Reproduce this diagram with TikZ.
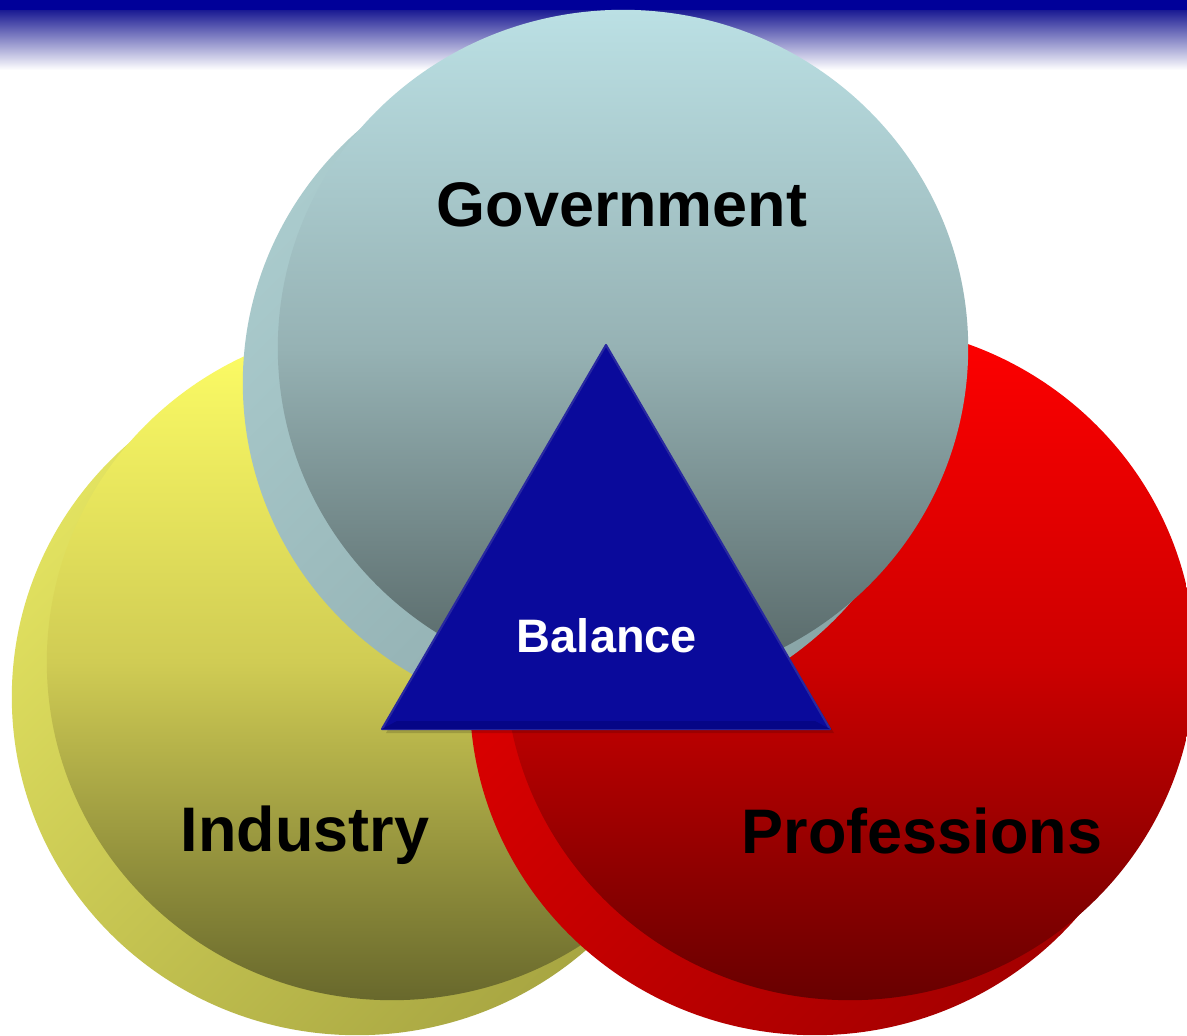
\documentclass[tikz,border=0pt]{standalone}
\usepackage{fontspec}
\setmainfont{Liberation Sans}
\definecolor{barblue}{RGB}{0,0,153}
\definecolor{barfade}{RGB}{28,28,148}
\definecolor{govtop}{RGB}{187,224,228}
\definecolor{govmid}{RGB}{150,178,180}
\definecolor{govbot}{RGB}{84,100,100}
\definecolor{govbacka}{RGB}{170,203,205}
\definecolor{govbackb}{RGB}{138,166,168}
\definecolor{indtop}{RGB}{255,255,102}
\definecolor{indmid}{RGB}{208,204,84}
\definecolor{indbot}{RGB}{104,104,44}
\definecolor{indbacka}{RGB}{226,226,96}
\definecolor{indbackb}{RGB}{168,166,66}
\definecolor{protop}{RGB}{255,0,0}
\definecolor{promid}{RGB}{205,0,0}
\definecolor{probot}{RGB}{104,0,0}
\definecolor{probacka}{RGB}{228,0,0}
\definecolor{probackb}{RGB}{165,0,0}
\definecolor{trifill}{RGB}{10,10,155}
\definecolor{triedge}{RGB}{40,40,160}
\definecolor{tridark}{RGB}{6,6,135}
\tikzset{
  discshape/.style={x radius=3.45cm, y radius=3.38cm},
  lbl/.style={inner sep=0pt, font=\fontsize{17.9pt}{20pt}\selectfont\bfseries, text=black},
  lblsmall/.style={inner sep=0pt, font=\fontsize{13.35pt}{15pt}\selectfont\bfseries, text=white}
}
\begin{document}
\begin{tikzpicture}[x=0.01cm,y=-0.01cm]
\useasboundingbox (0,0) rectangle (1187,1036);
\clip (0,0) rectangle (1187,1036);
\fill[white] (0,0) rectangle (1187,1036);
% top bar
\fill[barblue] (0,0) rectangle (1187,11);
\shade[top color=barfade, bottom color=white] (0,10.5) rectangle (1187,70);
% centres
\coordinate (indback) at (357,697);
\coordinate (ind) at (392,662);
\coordinate (proback) at (815,697);
\coordinate (pro) at (850,662);
\coordinate (govback) at (588,383);
\coordinate (gov) at (623,348);
% Industry
\shade[top color=indbacka, bottom color=indbackb, shading angle=45] (indback) ellipse [discshape];
\shade[top color=indtop, bottom color=indbot, middle color=indmid] (ind) ellipse [discshape];
% Professions
\shade[top color=probacka, bottom color=probackb, shading angle=45] (proback) ellipse [discshape];
\shade[top color=protop, bottom color=probot, middle color=promid] (pro) ellipse [discshape];
% Government
\shade[top color=govbacka, bottom color=govbackb, shading angle=45] (govback) ellipse [discshape];
\shade[top color=govtop, bottom color=govbot, middle color=govmid] (gov) ellipse [discshape];
% Balance triangle
\coordinate (ta) at (606,345);
\coordinate (tl) at (382,729);
\coordinate (tr) at (830,729);
\fill[black, opacity=0.15] (606,349) -- (386,733) -- (834,733) -- cycle;
\fill[trifill, draw=triedge, line width=0.6pt, line join=round] (ta) -- (tl) -- (tr) -- cycle;
\fill[tridark] (tl) -- (tr) -- (815,721) -- (397,721) -- cycle;
% labels
\node[lbl, anchor=base] (tgov) at (622,226) {Government};
\node[lbl, anchor=base] (tind) at (305,851) {Industry};
\node[lbl, anchor=base] (tpro) at (922,853) {Professions};
\node[lblsmall, anchor=base] (tbal) at (607,652) {Balance};
\end{tikzpicture}
\end{document}
